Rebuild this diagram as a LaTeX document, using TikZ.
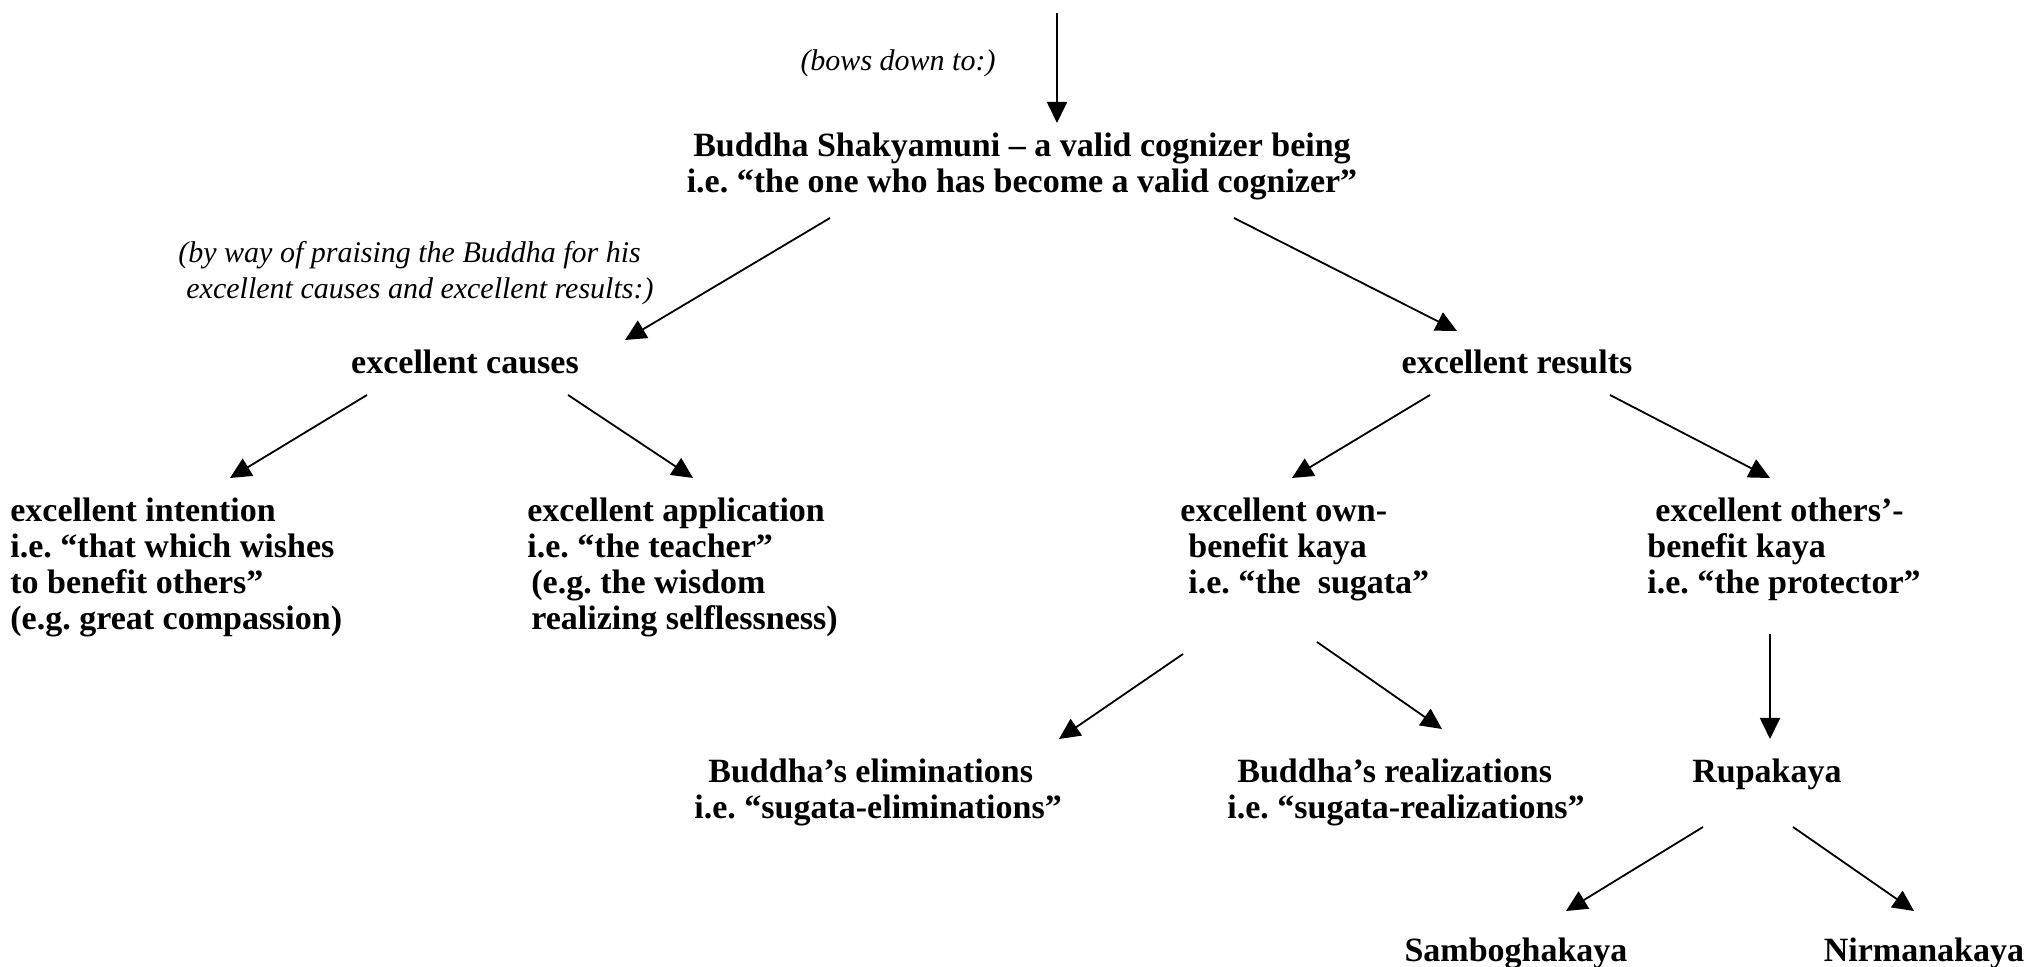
\documentclass[tikz,border=0pt]{standalone}
\usepackage{fontspec}
\setmainfont{Liberation Serif}
\usetikzlibrary{arrows.meta, calc, positioning}
\frenchspacing
\tikzstyle{term} = [font=\fontsize{17}{18}\selectfont\bfseries, inner sep=0pt, align=left]
\tikzstyle{head} = [term, align=center]
\tikzstyle{note} = [font=\fontsize{15}{18}\selectfont\itshape, inner sep=0pt, align=left]
\tikzstyle{link} = [draw, line width=0.9pt, -{Triangle[length=10.5pt, width=10pt]}]

\begin{document}
\begin{tikzpicture}[x=0.5pt, y=-0.5pt]
\useasboundingbox (0,0) rectangle (2026,967);
% top level
\coordinate (top) at (1057,13);
\node[note] (bows) at (898,63) {(bows down to:)};
\node[head] (root) at (1022,166) {Buddha Shakyamuni -- a valid cognizer being\\i.e. “the one who has become a valid cognizer”};
\node[note, anchor=west] (praise) at (178,273) {(by way of praising the Buddha for his\\\hspace{4pt}excellent causes and excellent results:)};
% causes and results
\node[term] (causes) at (465,362) {excellent causes};
\node[term] (results) at (1517,362) {excellent results};
\node[term, anchor=west] (intention) at (10,567) {excellent intention\\i.e. “that which wishes\\to benefit others”\\(e.g. great compassion)};
\node[term, anchor=west] (application) at (527,567) {excellent application\\i.e. “the teacher”\\\hspace{2pt}(e.g. the wisdom\\\hspace{2pt}realizing selflessness)};
\node[term, anchor=west] (own) at (1180,549) {excellent own-\\\hspace{4pt}benefit kaya\\\hspace{4pt}i.e. “the\ \ sugata”};
\node[term, anchor=west] (others) at (1647,549) {\hspace{4pt}excellent others’-\\benefit kaya\\i.e. “the protector”};
% kayas
\node[term, anchor=west] (elim) at (694,792) {\hspace{7pt}Buddha’s eliminations\\i.e. “sugata-eliminations”};
\node[term, anchor=west] (realiz) at (1227,792) {\hspace{5pt}Buddha’s realizations\\i.e. “sugata-realizations”};
\node[term] (rupa) at (1767,774) {Rupakaya};
\node[term] (sambhoga) at (1516,953) {Samboghakaya};
\node[term] (nirmana) at (1924,953) {Nirmanakaya};

\draw[link] (top) -- ($(root)+(35,-43)$);
\draw[link] ($(root)+(-192,52)$) -- ($(causes)+(160,-22)$);
\draw[link] ($(root)+(212,52)$) -- ($(results)+(-60,-31)$);
\draw[link] ($(causes)+(-98,33)$) -- ($(intention.west)+(220,-89)$);
\draw[link] ($(causes)+(103,33)$) -- ($(application.west)+(166,-89)$);
\draw[link] ($(results)+(-87,33)$) -- ($(own.west)+(112,-71)$);
\draw[link] ($(results)+(93,33)$) -- ($(others.west)+(123,-71)$);
\draw[link] ($(own.west)+(3,105)$) -- ($(elim.west)+(365,-53)$);
\draw[link] ($(own.west)+(137,93)$) -- ($(realiz.west)+(215,-63)$);
\draw[link] ($(others.west)+(123,85)$) -- ($(rupa)+(3,-35)$);
\draw[link] ($(rupa)+(-64,53)$) -- ($(sambhoga)+(50,-42)$);
\draw[link] ($(rupa)+(26,53)$) -- ($(nirmana)+(-10,-42)$);
\end{tikzpicture}
\end{document}
